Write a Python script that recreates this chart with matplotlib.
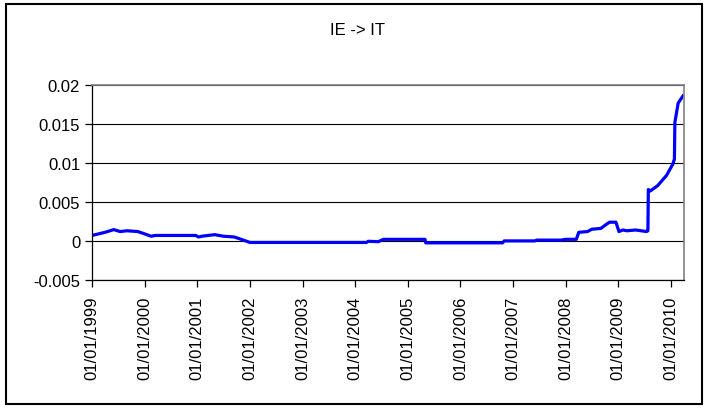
import matplotlib
matplotlib.use("Agg")
import matplotlib.pyplot as plt
import matplotlib.dates as mdates
from matplotlib.patches import Rectangle
import pandas as pd

plt.rcParams['font.family'] = ['Liberation Sans', 'DejaVu Sans']

title = "IE -> IT"

# (date, value)
dates = ["1999-01-01", "1999-02-15", "1999-04-01", "1999-06-01", "1999-07-15",
         "1999-09-01", "1999-11-15", "2000-01-01", "2000-02-15", "2000-03-15",
         "2000-12-20", "2001-01-10", "2001-02-01", "2001-05-01", "2001-07-01",
         "2001-09-15", "2001-11-01", "2002-01-01", "2004-03-20", "2004-04-01",
         "2004-06-10", "2004-07-15", "2005-04-30", "2005-05-05", "2006-10-20",
         "2006-11-01", "2007-06-01", "2007-06-15", "2007-12-01", "2008-01-01",
         "2008-03-15", "2008-04-01", "2008-06-01", "2008-07-01", "2008-09-01",
         "2008-10-15", "2008-11-01", "2008-12-15", "2009-01-05", "2009-02-01",
         "2009-03-01", "2009-05-01", "2009-07-15", "2009-07-25", "2009-07-28",
         "2009-08-10", "2009-10-01", "2009-12-01", "2010-01-15", "2010-01-25",
         "2010-01-28", "2010-02-10", "2010-02-20", "2010-03-25"]
values = [0.0007, 0.0009, 0.0011, 0.00145, 0.0012,
          0.0013, 0.0012, 0.0009, 0.0006, 0.0007,
          0.0007, 0.0005, 0.0006, 0.0008, 0.0006,
          0.0005, 0.0002, -0.0002, -0.0002, -0.00005,
          -0.0001, 0.0002, 0.0002, -0.00025, -0.00025,
          0.0, 0.0, 0.0001, 0.0001, 0.0002,
          0.0002, 0.0011, 0.0012, 0.0015, 0.0016,
          0.0022, 0.0024, 0.0024, 0.0012, 0.0014,
          0.0013, 0.0014, 0.0012, 0.0013, 0.0066,
          0.0064, 0.0071, 0.0084, 0.0099, 0.0105,
          0.0152, 0.0166, 0.0177, 0.0186]

yticks = [-0.005, 0, 0.005, 0.01, 0.015, 0.02]
ytick_labels = ["-0.005", "0", "0.005", "0.01", "0.015", "0.02"]
years = list(range(1999, 2011))

x = pd.to_datetime(dates)

fig = plt.figure(figsize=(7.08, 4.10), dpi=100)
ax = fig.add_axes([0.130, 0.315, 0.836, 0.475])

ax.plot(x, values, color="#0000FF", lw=2.3, solid_joinstyle="round")

ax.set_ylim(-0.005, 0.02)
ax.set_yticks(yticks)
ax.set_yticklabels(ytick_labels)
ax.set_xlim(pd.Timestamp("1999-01-01"), pd.Timestamp("2010-04-01"))
xt = [pd.Timestamp(f"{y}-01-01") for y in years]
ax.set_xticks(xt)
ax.set_xticklabels([t.strftime("%d/%m/%Y") for t in xt], rotation=90)

ax.yaxis.grid(True, color="black", lw=0.8)
ax.set_axisbelow(True)
for s in ["top", "right"]:
    ax.spines[s].set_color("#808080")
    ax.spines[s].set_linewidth(1.2)
for s in ["left", "bottom"]:
    ax.spines[s].set_color("black")
    ax.spines[s].set_linewidth(0.9)
ax.tick_params(axis="both", direction="out", length=5, width=0.9,
               labelsize=12, colors="black")
ax.tick_params(axis="x", pad=6)

fig.text(0.505, 0.925, title, ha="center", va="center", fontsize=12)

fig.patches.append(Rectangle((0.008, 0.012), 0.984, 0.976, transform=fig.transFigure,
                             fill=False, edgecolor="black", lw=1.5))

fig.savefig("out.png", dpi=100)
